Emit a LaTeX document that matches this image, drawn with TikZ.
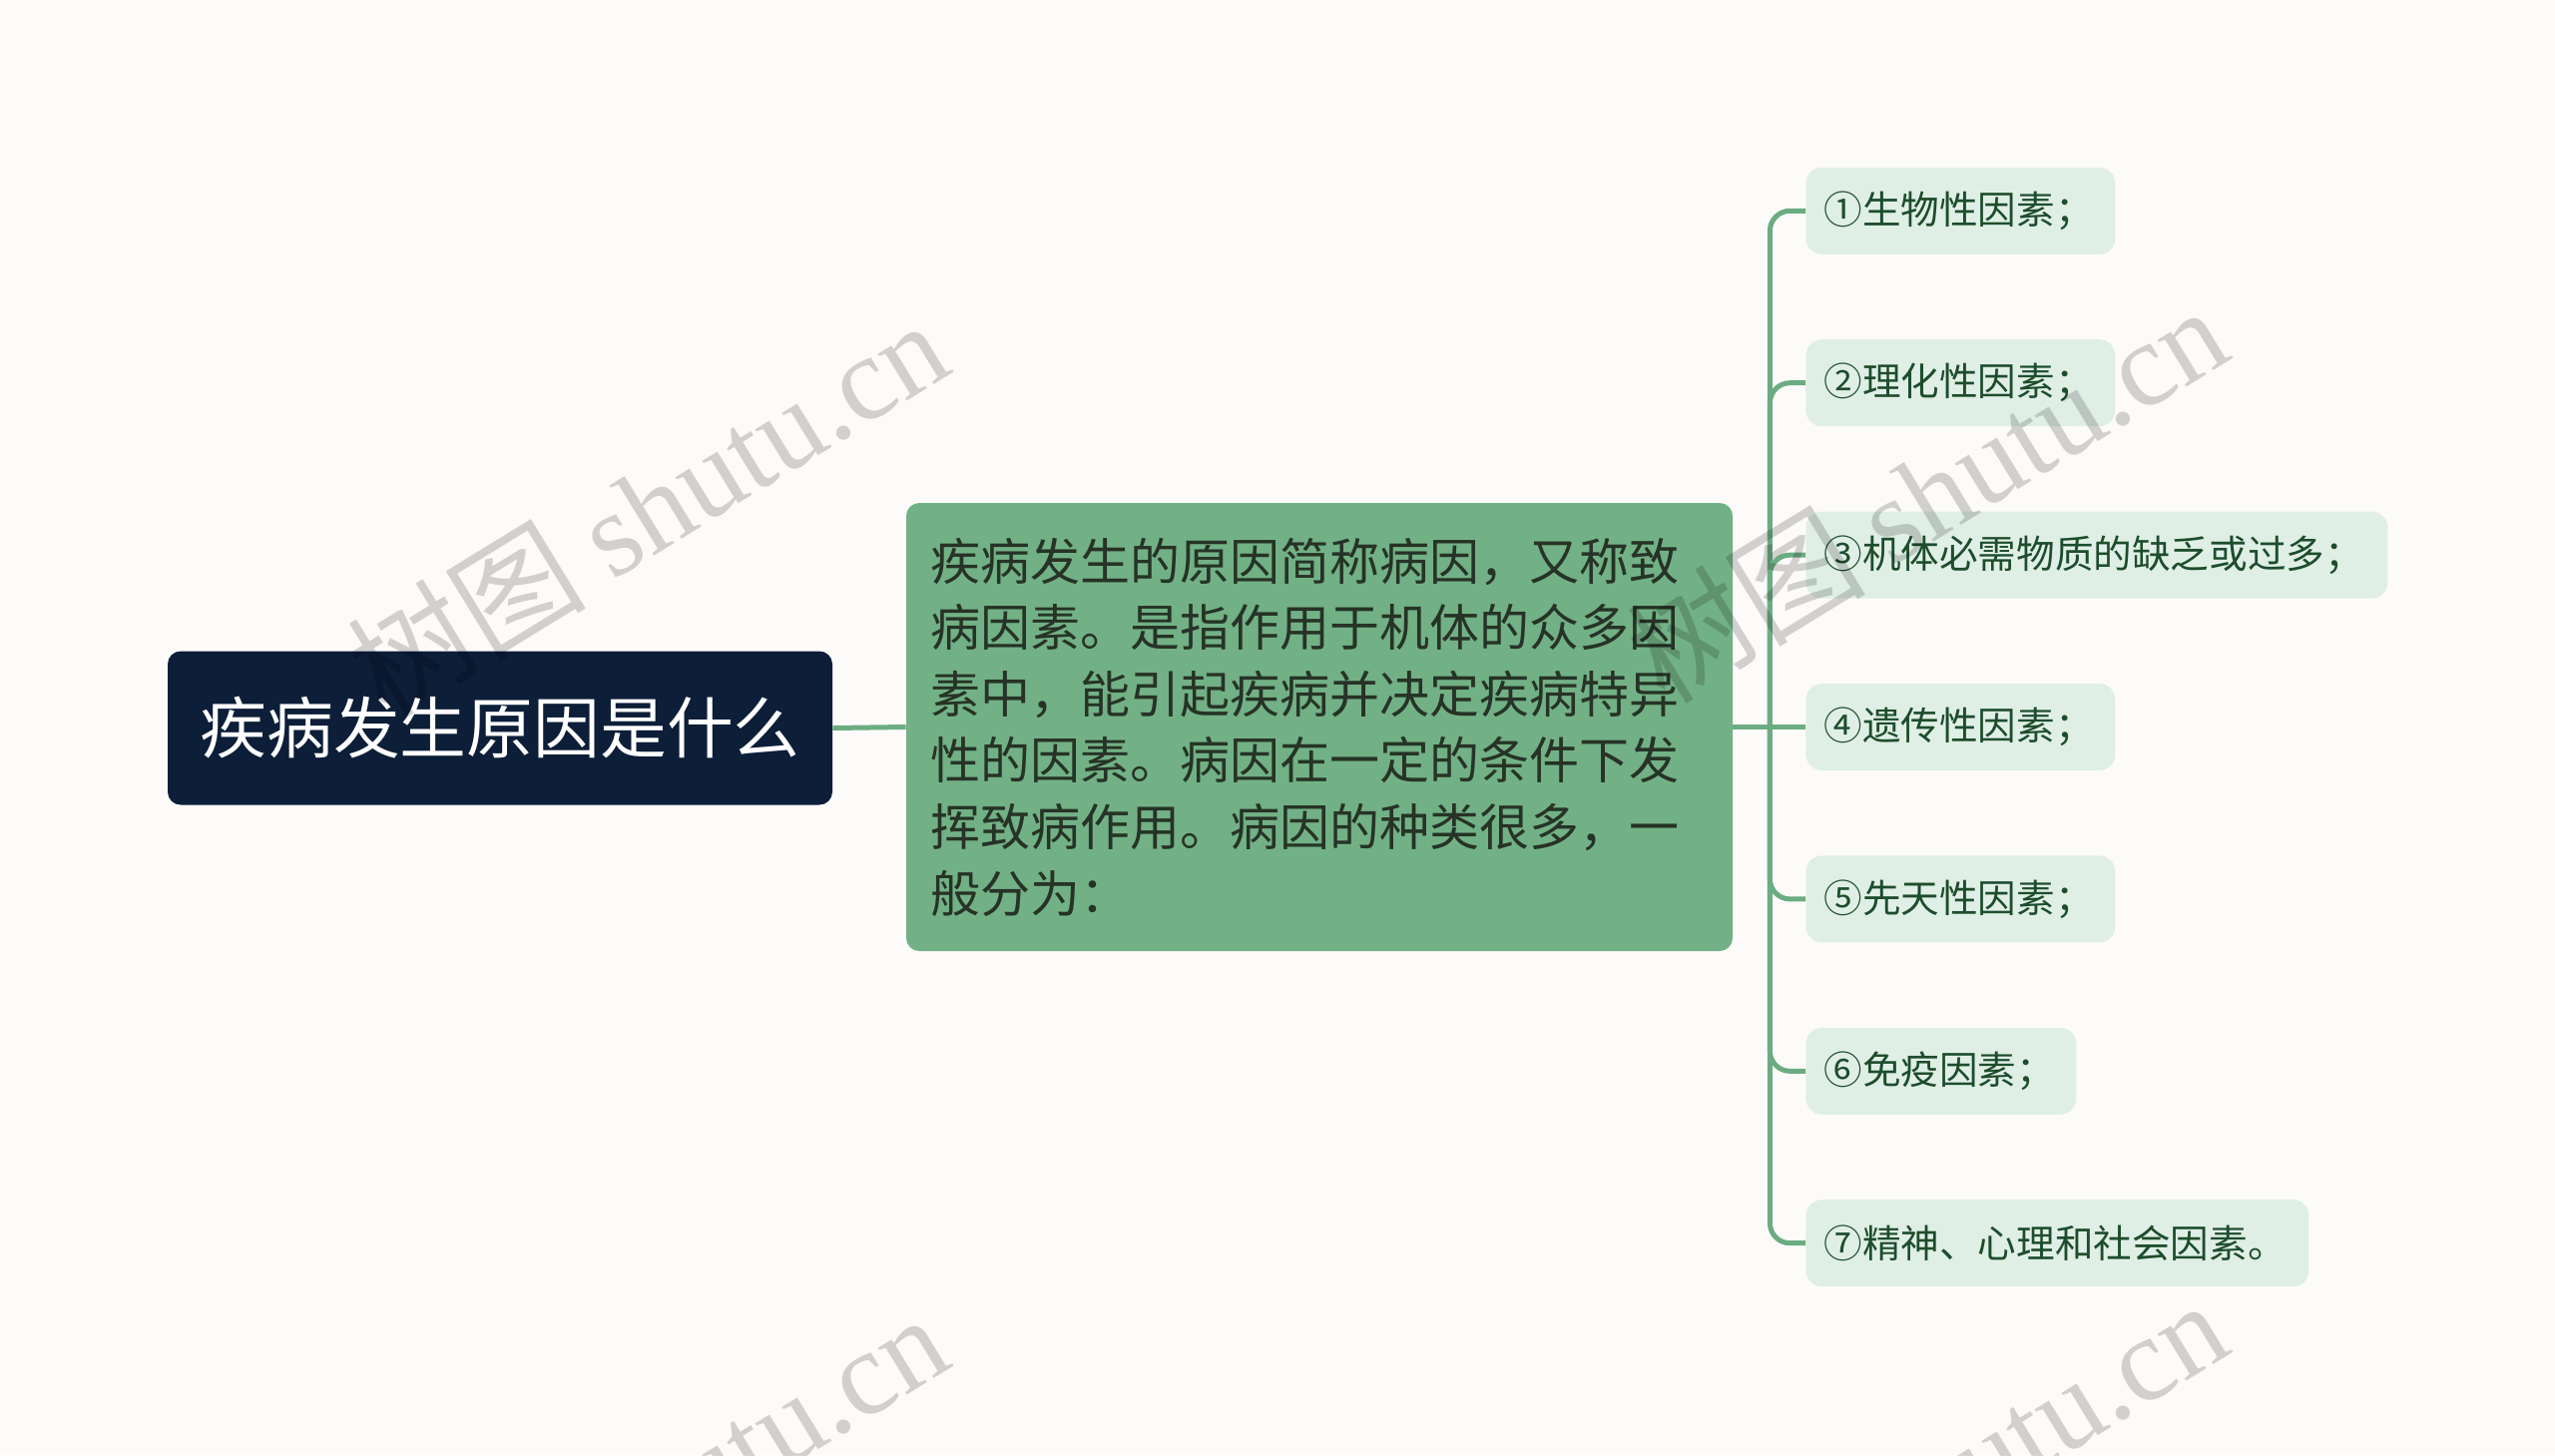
\documentclass[tikz,border=0pt]{standalone}
\usepackage{fontspec}
\setmainfont{Noto Sans CJK SC}
\newfontfamily\wmlatin{Liberation Serif}
\newfontfamily\wmcjk{Noto Sans CJK SC}
\definecolor{bgc}{HTML}{FDFBFA}
\definecolor{rootfill}{HTML}{0C1E38}
\definecolor{mainfill}{HTML}{72B185}
\definecolor{maintext}{HTML}{263326}
\definecolor{leaffill}{HTML}{E0EFE6}
\definecolor{leaftext}{HTML}{1D4D2C}
\definecolor{linec}{HTML}{6CAC82}
\tikzset{
  rootbox/.style={fill=rootfill, text=white, rounded corners=6.5pt, minimum width=333pt, minimum height=77pt, inner sep=0pt, font=\fontsize{33.4pt}{40pt}\selectfont},
  mainbox/.style={fill=mainfill, text=maintext, rounded corners=6.5pt, minimum width=414pt, minimum height=224.5pt, inner xsep=12pt, inner ysep=0pt, text width=390pt, align=left, font=\fontsize{25pt}{33.3pt}\selectfont},
  leafbox/.style={fill=leaffill, text=leaftext, rounded corners=8pt, minimum height=43.5pt, inner xsep=9pt, inner ysep=0pt, align=left, anchor=west, font=\fontsize{19.3pt}{22pt}\selectfont},
  link/.style={draw=linec, line width=2.5pt},
  wm/.style={text=black, text opacity=0.17, rotate=31.5, inner sep=0pt, font=\fontsize{60pt}{60pt}\selectfont}
}
\begin{document}
\begin{tikzpicture}[x=0.5pt,y=-0.5pt]
\fill[bgc] (0,0) rectangle (2560,1458);
\useasboundingbox (0,0) rectangle (2560,1458);
\clip (0,0) rectangle (2560,1458);

\node[rootbox] (root) at (501,729.5) {疾病发生原因是什么};
\node[mainbox] (main) at (1322,728.5) {疾病发生的原因简称病因，又称致\\病因素。是指作用于机体的众多因\\素中，能引起疾病并决定疾病特异\\性的因素。病因在一定的条件下发\\挥致病作用。病因的种类很多，一\\般分为：};

\node[leafbox, text width=137pt] (l1) at (1809,211.3) {①生物性因素；};
\node[leafbox, text width=137pt] (l2) at (1809,383.7) {②理化性因素；};
\node[leafbox, text width=273.5pt] (l3) at (1809,556.1) {③机体必需物质的缺乏或过多；};
\node[leafbox, text width=137pt] (l4) at (1809,728.5) {④遗传性因素；};
\node[leafbox, text width=137pt] (l5) at (1809,900.9) {⑤先天性因素；};
\node[leafbox, text width=117.5pt] (l6) at (1809,1073.3) {⑥免疫因素；};
\node[leafbox, text width=234pt] (l7) at (1809,1245.7) {⑦精神、心理和社会因素。};

\coordinate (j) at ([xshift=18.5pt]main.east);
\draw[link] (root.east) -- (main.west);
\draw[link] (main.east) -- (j);
\foreach \i in {1,2,3,5,6,7} {
  \draw[link, rounded corners=10pt] (j) |- (l\i.west);
}
\draw[link] (j) -- (l4.west);

\node[wm] (wm1) at (648,508) {\wmcjk 树图 \wmlatin shutu.cn};
\node[wm] (wm2) at (1930,494) {\wmcjk 树图 \wmlatin shutu.cn};
\node[wm] (wm3) at (648,1504) {\wmcjk 树图 \wmlatin shutu.cn};
\node[wm] (wm4) at (1930,1490) {\wmcjk 树图 \wmlatin shutu.cn};
\end{tikzpicture}
\end{document}
